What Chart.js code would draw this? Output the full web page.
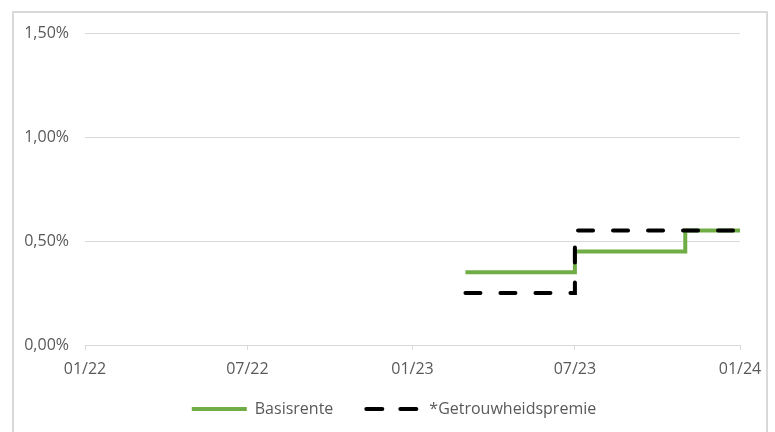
<!DOCTYPE html>
<html>
<head>
  <meta charset="utf-8">
  <style>
    html, body { margin: 0; padding: 0; background: #ffffff; }
    #wrap { width: 775px; height: 432px; }
  </style>
  <script src="https://cdn.jsdelivr.net/npm/chart.js@4.4.1/dist/chart.umd.min.js"></script>
</head>
<body>
  <div id="wrap"><canvas id="chart" width="775" height="432"></canvas></div>
  <script>
    // dagen vanaf 01-01-2022
    var tickDays = [0, 181, 365, 546, 730];
    var tickLabels = ['01/22', '07/22', '01/23', '07/23', '01/24'];

    var basisDays = [424, 546, 669, 730];
    var basisRente = [0.35, 0.45, 0.55, 0.55];

    var premieDays = [424, 546, 730];
    var premie = [0.25, 0.55, 0.55];

    var grey = '#595959';
    var gridGrey = '#d9d9d9';
    var font = { family: 'Open Sans', size: 16 };

    function toPoints(xs, ys) {
      return xs.map(function (x, i) { return { x: x, y: ys[i] }; });
    }

    // rand om de grafiek, x-labels niet afknippen, legenda centreren op de rand
    var frame = {
      id: 'frame',
      afterLayout: function (chart) {
        chart.scales.x.bottom += 20;
        chart.legend.left += 24;
        chart.legend.right += 24;
      },
      beforeDraw: function (chart) {
        var c = chart.ctx;
        c.save();
        c.strokeStyle = gridGrey;
        c.lineWidth = 2;
        c.strokeRect(13, 12, 754, 440);
        c.restore();
      }
    };

    var ctx = document.getElementById('chart').getContext('2d');
    var chart = new Chart(ctx, {
      type: 'line',
      data: {
        datasets: [{
          label: 'Basisrente',
          data: toPoints(basisDays, basisRente),
          borderColor: '#70ad47',
          backgroundColor: '#70ad47',
          borderWidth: 4,
          stepped: 'before',
          pointRadius: 0,
          pointStyle: 'line',
          order: 1
        }, {
          label: '*Getrouwheidspremie',
          data: toPoints(premieDays, premie),
          borderColor: '#000000',
          backgroundColor: '#000000',
          borderWidth: 4,
          borderDash: [15, 20],
          borderCapStyle: 'round',
          stepped: 'before',
          pointRadius: 0,
          pointStyle: 'line',
          order: 0
        }]
      },
      options: {
        responsive: false,
        animation: false,
        layout: { padding: { top: 33, right: 35, bottom: 5, left: 0 } },
        plugins: {
          tooltip: { enabled: false },
          legend: {
            position: 'bottom',
            labels: {
              usePointStyle: true,
              pointStyleWidth: 55,
              color: grey,
              font: font,
              padding: 33,
              sort: function (a, b) { return a.datasetIndex - b.datasetIndex; },
              generateLabels: function (chart) {
                var items = Chart.defaults.plugins.legend.labels.generateLabels(chart);
                items.forEach(function (item) {
                  var ds = chart.data.datasets[item.datasetIndex];
                  item.lineWidth = 4;
                  if (ds.borderDash) {
                    item.lineDash = [16, 18];
                    item.lineCap = 'round';
                  }
                });
                return items;
              }
            }
          }
        },
        scales: {
          x: {
            type: 'linear',
            min: 0,
            max: 730,
            afterBuildTicks: function (scale) {
              scale.ticks = tickDays.map(function (d) { return { value: d }; });
            },
            afterFit: function (scale) { scale.height = 23; },
            ticks: {
              color: grey,
              font: font,
              padding: 10,
              maxRotation: 0,
              autoSkip: false,
              callback: function (v) {
                var i = tickDays.indexOf(v);
                return i >= 0 ? tickLabels[i] : '';
              }
            },
            grid: { drawOnChartArea: false, drawTicks: true, tickLength: 5, color: gridGrey },
            border: { display: true, color: gridGrey, width: 1 }
          },
          y: {
            min: 0,
            max: 1.5,
            afterFit: function (scale) { scale.width = 85; },
            ticks: {
              stepSize: 0.5,
              color: grey,
              font: font,
              padding: 16,
              callback: function (v) { return v.toFixed(2).replace('.', ',') + '%'; }
            },
            grid: { color: gridGrey, drawTicks: false },
            border: { display: false }
          }
        }
      },
      plugins: [frame]
    });
  </script>
</body>
</html>
